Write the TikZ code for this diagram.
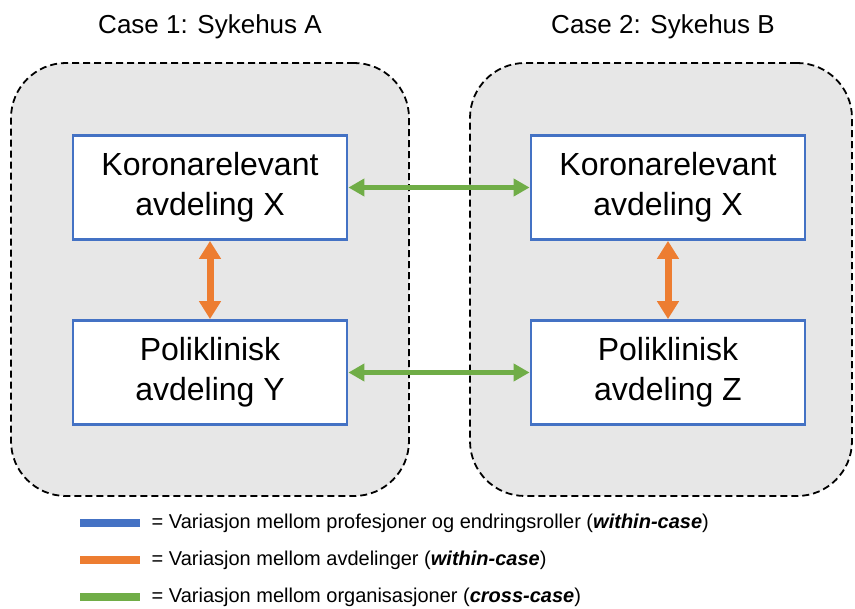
\documentclass[tikz,border=0pt]{standalone}
\usepackage{fontspec}
\setmainfont{Liberation Sans}
\usetikzlibrary{positioning, arrows.meta}
\definecolor{boxblue}{HTML}{4472C4}
\definecolor{arrorange}{HTML}{ED7D31}
\definecolor{arrgreen}{HTML}{70AD47}
\definecolor{casegray}{HTML}{E7E7E7}
\tikzset{
  casebox/.style={draw=black, dashed, line width=1.8pt, fill=casegray, rounded corners=55pt,
    minimum width=398pt, minimum height=433pt, dash pattern=on 7pt off 4pt},
  avdbox/.style={draw=boxblue, line width=2.8pt, fill=white, minimum width=274pt,
    minimum height=104pt, align=center, font=\fontsize{32}{40}\selectfont},
  dblarrow/.style={line width=5pt, {Triangle[width=17pt,length=16pt]}-{Triangle[width=17pt,length=16pt]}},
  widearrow/.style={line width=7pt, {Triangle[width=21pt,length=18pt]}-{Triangle[width=21pt,length=18pt]}},
  legbar/.style={minimum width=60pt, minimum height=8pt, inner sep=0pt},
  legtext/.style={anchor=west, font=\fontsize{20}{24}\selectfont}
}
\begin{document}
\begin{tikzpicture}[x=1pt, y=-1pt]
  \useasboundingbox (0,0) rectangle (855,609);
  \node [casebox] (casea) at (210,279.5) {};                 % case 1 frame
  \node [casebox, minimum width=382pt] (caseb) at (661,279.5) {}; % case 2 frame
  \node [font=\fontsize{26}{30}\selectfont] (titlea) at (210,27) {Case 1: Sykehus A};
  \node [font=\fontsize{26}{30}\selectfont] (titleb) at (663,27) {Case 2: Sykehus B};
  \node [avdbox] (korona) at (210,187.5) {Koronarelevant\\avdeling X};
  \node [avdbox] (polia) at (210,372.5) {Poliklinisk\\avdeling Y};
  \node [avdbox] (koronb) at (668,187.5) {Koronarelevant\\avdeling X};
  \node [avdbox] (polib) at (668,372.5) {Poliklinisk\\avdeling Z};
  \draw [dblarrow, arrgreen] (korona.east) -- (koronb.west); % cross-case arrow
  \draw [dblarrow, arrgreen] (polia.east) -- (polib.west);   % cross-case arrow
  \draw [widearrow, arrorange] (korona.south) -- (polia.north); % within-case arrow
  \draw [widearrow, arrorange] (koronb.south) -- (polib.north); % within-case arrow
  \node [legbar, fill=boxblue] (legblue) at (110,523) {};
  \node [legbar, fill=arrorange] (legorange) at (110,560) {};
  \node [legbar, fill=arrgreen] (leggreen) at (110,597) {};
  \node [legtext, right=8pt of legblue] (txtblue) {= Variasjon mellom profesjoner og endringsroller (\textit{\textbf{within-case}})};
  \node [legtext, right=8pt of legorange] (txtorange) {= Variasjon mellom avdelinger (\textit{\textbf{within-case}})};
  \node [legtext, right=8pt of leggreen] (txtgreen) {= Variasjon mellom organisasjoner (\textit{\textbf{cross-case}})};
\end{tikzpicture}
\end{document}
